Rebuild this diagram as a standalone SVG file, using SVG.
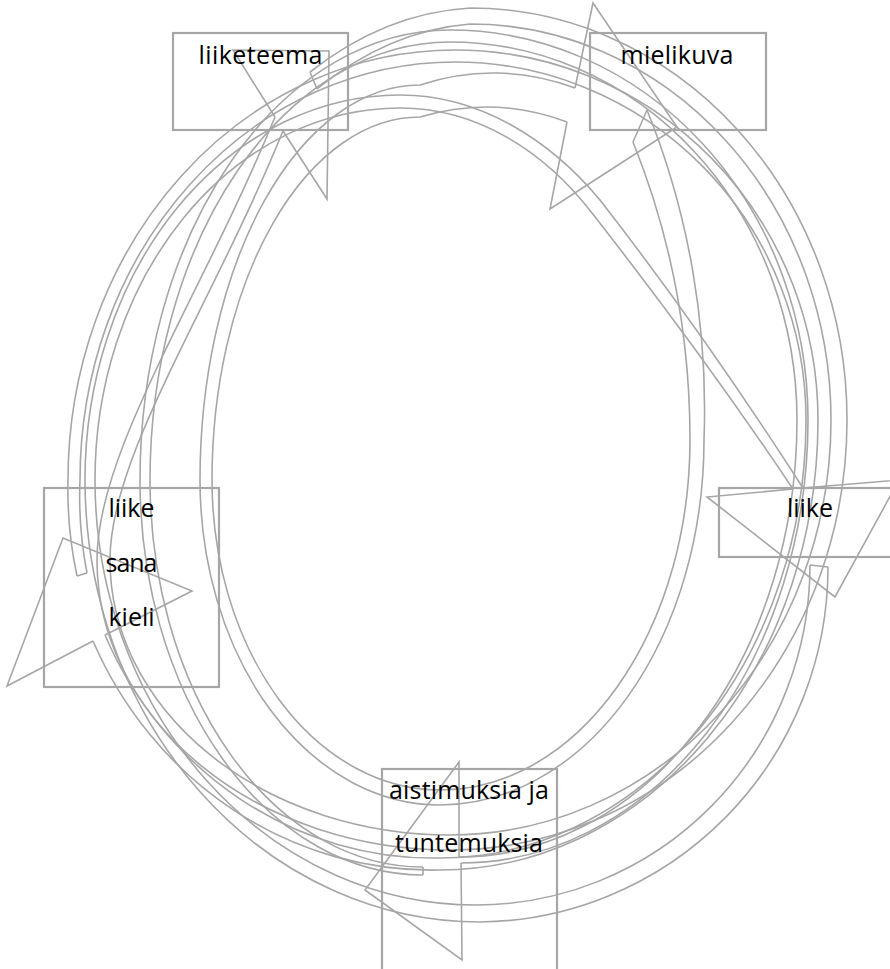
<svg xmlns="http://www.w3.org/2000/svg" width="890" height="969" viewBox="0 0 890 969">
<style>
.c{fill:none;stroke:#A6A6A6;stroke-width:1.6;stroke-linejoin:miter}
.box{fill:none;stroke:#A6A6A6;stroke-width:2.2}
.t{font-family:"Open Sans","Noto Sans",sans-serif;font-size:25px;fill:#000;text-anchor:middle}
</style>
<rect width="890" height="969" fill="#fff"/>
<g id="connectors">
  <g id="arrow-a">
    <path class="c" d="M77,576 A372,390 0 0 1 68,480 A387,430 0 0 1 455,50 A363,370 0 0 1 818,420 A378,450 0 0 1 440,870 A372,390 0 0 1 93,641"/>
    <path class="c" d="M87,573 A360,378 0 0 1 80,480 A375,418 0 0 1 455,62 A351,358 0 0 1 806,420 A366,438 0 0 1 440,858 A360,378 0 0 1 105,635"/>
    <path class="c" d="M77,576 L87,573"/>
    <polyline class="c" points="93,641 7,686 63,538 192,591 105,635"/>
  </g>
  <g id="arrow-b">
    <path class="c" d="M310,72 A373,552 0 0 1 470,8 A377,412 0 0 1 847,420 A397,430 0 0 1 450,850 A353,290 0 0 1 97,560 C97,450 200,300 275,117"/>
    <path class="c" d="M317,89 A360,536 0 0 1 470,24 A361,396 0 0 1 831,420 A381,415 0 0 1 450,835 A340,275 0 0 1 110,560 C110,455 210,310 283,131"/>
    <path class="c" d="M310,72 L317,89"/>
    <polyline class="c" points="275,117 233,50 329,51 327,199 283,131"/>
  </g>
  <g id="arrow-c">
    <path class="c" d="M647,110 A600,700 0 0 1 704,440 A264,365 0 0 1 440,805 A240,325 0 0 1 200,480 A220,395 0 0 1 420,85 A284,355 0 0 1 575,88"/>
    <path class="c" d="M633,142 A600,700 0 0 1 690,440 A250,350 0 0 1 440,790 A228,310 0 0 1 212,480 A208,363 0 0 1 420,117 A270,323 0 0 1 567,122"/>
    <path class="c" d="M647,110 L633,142"/>
    <polyline class="c" points="575,88 593,3 677,127 550,209 567,122"/>
  </g>
  <g id="arrow-d">
    <path class="c" d="M828,567 A352,355 0 0 1 480,922 A395,442 0 0 1 85,480 A315,385 0 0 1 400,95 C480,95 550,140 600,200 C670,290 740,390 803,488"/>
    <path class="c" d="M810,565 A334,340 0 0 1 476,905 A381,425 0 0 1 95,480 A305,372 0 0 1 400,108 C478,108 545,152 592,213 C660,300 730,395 793,489"/>
    <path class="c" d="M828,567 L810,565"/>
    <polyline class="c" points="793,489 707,497 835,597 899,480 803,488"/>
  </g>
  <g id="arrow-e">
    <path class="c" d="M423,875 A283,395 0 0 1 140,480 A310,450 0 0 1 450,30 A358,390 0 0 1 808,420 A347,443 0 0 1 461,863"/>
    <path class="c" d="M423,867 A273,387 0 0 1 150,480 A300,438 0 0 1 450,42 A347,378 0 0 1 797,420 A338,437 0 0 1 459,857"/>
    <path class="c" d="M423,875 L423,867"/>
    <polyline class="c" points="461,863 462,960 365,890 459,762 459,857"/>
  </g>
</g>
<g id="node-liiketeema">
  <rect class="box" x="173" y="33" width="175" height="97"/>
  <text class="t" x="260.5" y="64" textLength="124" lengthAdjust="spacing">liiketeema</text>
</g>
<g id="node-mielikuva">
  <rect class="box" x="590" y="33" width="176" height="97"/>
  <text class="t" x="677" y="64" textLength="113" lengthAdjust="spacing">mielikuva</text>
</g>
<g id="node-liike-sana-kieli">
  <rect class="box" x="44" y="488" width="175" height="199"/>
  <text class="t" x="131.5" y="517" textLength="46" lengthAdjust="spacing">liike</text>
  <text class="t" x="131.5" y="572" textLength="52" lengthAdjust="spacing">sana</text>
  <text class="t" x="131.5" y="626" textLength="46" lengthAdjust="spacing">kieli</text>
</g>
<g id="node-liike">
  <rect class="box" x="719" y="488" width="182" height="69"/>
  <text class="t" x="810" y="517" textLength="46" lengthAdjust="spacing">liike</text>
</g>
<g id="node-aistimuksia">
  <rect class="box" x="382" y="769" width="175" height="202"/>
  <text class="t" x="469" y="799" textLength="160" lengthAdjust="spacing">aistimuksia ja</text>
  <text class="t" x="469" y="852" textLength="148" lengthAdjust="spacing">tuntemuksia</text>
</g>
</svg>
